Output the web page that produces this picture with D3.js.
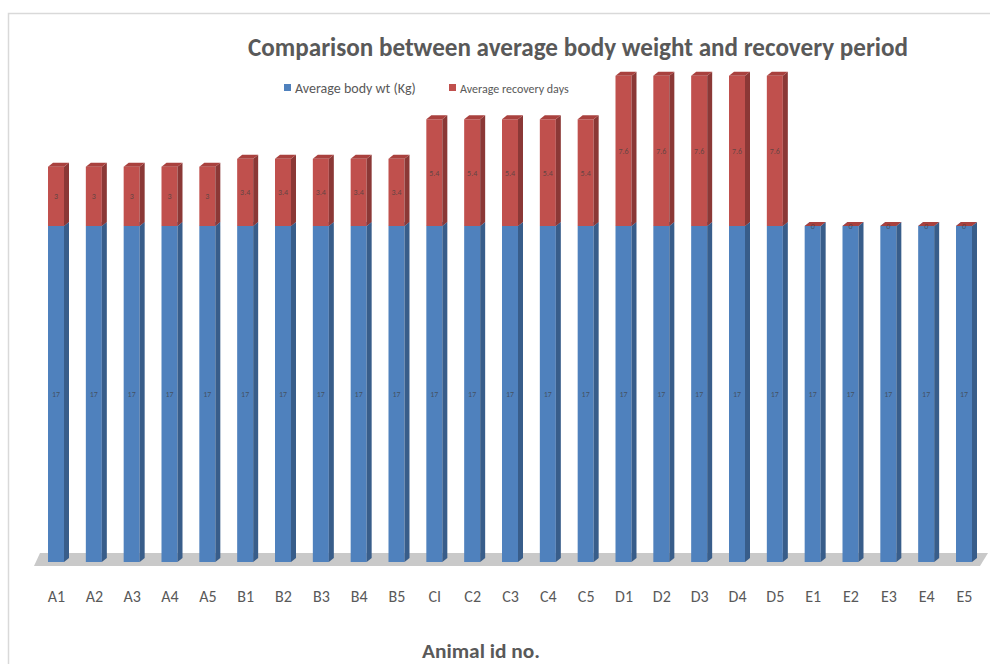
<!DOCTYPE html>
<html>
<head>
<meta charset="utf-8">
<script src="https://cdn.jsdelivr.net/npm/d3@7"></script>
<style>
  html, body { margin: 0; padding: 0; background: #fff; }
  svg { display: block; }
  text { font-family: Carlito, "Liberation Sans Narrow", "Liberation Sans", sans-serif; }
</style>
</head>
<body>
<svg id="chart" width="990" height="664"></svg>
<script>
// Animal ids along the category axis
const animalIds = ["A1","A2","A3","A4","A5","B1","B2","B3","B4","B5",
                   "CI","C2","C3","C4","C5","D1","D2","D3","D4","D5",
                   "E1","E2","E3","E4","E5"];
// Average body weight (Kg) per animal
const bodyWeight = [17,17,17,17,17,17,17,17,17,17,
                    17,17,17,17,17,17,17,17,17,17,
                    17,17,17,17,17];
// Average recovery days per animal
const recoveryDays = [3,3,3,3,3,3.4,3.4,3.4,3.4,3.4,
                      5.4,5.4,5.4,5.4,5.4,7.6,7.6,7.6,7.6,7.6,
                      0,0,0,0,0];
const seriesNames = ["Average body wt (Kg)", "Average recovery days"];
const seriesValues = [bodyWeight, recoveryDays];

const colors = [
  { front: "#4F81BD", side: "#385D8A", top: "#6A93C8" },
  { front: "#C0504D", side: "#8B3836", top: "#A9413E" }
];

const svg = d3.select("#chart");

// Outer chart frame
svg.append("rect")
  .attr("x", 8.5).attr("y", 13.5).attr("width", 1000).attr("height", 700)
  .attr("fill", "none").attr("stroke", "#D9D9D9").attr("stroke-width", 1.5);

const x = d3.scalePoint().domain(animalIds).range([56, 964]);
const y = d3.scaleLinear().domain([0, 17]).range([562, 226]);

const barW = 16, dx = 5, dy = 4;

// Stacked segments
const rows = animalIds.map((id, i) => ({ id, b: bodyWeight[i], r: recoveryDays[i] }));
const stack = d3.stack().keys(["b", "r"])(rows);

// Floor of the 3D plot area
const fx0 = x(animalIds[0]) - 22, fx1 = x(animalIds[animalIds.length - 1]) + 16;
const fyTop = y(0) - 9, fyBot = y(0) + 4;
svg.append("path")
  .attr("d", `M${fx0},${fyBot} L${fx1},${fyBot} L${fx1 + 8},${fyTop} L${fx0 + 6},${fyTop} Z`)
  .attr("fill", "#C9C9C9");

const g = svg.append("g");
rows.forEach((row, i) => {
  stack.forEach((layer, k) => {
    const seg = layer[i];
    const c = colors[k];
    const x0 = x(row.id) - barW / 2;
    const yb = y(seg[0]), yt = y(seg[1]);
    const bar = g.append("g");
    // front face
    bar.append("rect").attr("x", x0).attr("y", yt).attr("width", barW).attr("height", yb - yt)
      .attr("fill", c.front);
    // right side face
    bar.append("path")
      .attr("d", `M${x0 + barW},${yt} L${x0 + barW + dx},${yt - dy} L${x0 + barW + dx},${yb - dy} L${x0 + barW},${yb} Z`)
      .attr("fill", c.side);
    // top face
    bar.append("path")
      .attr("d", `M${x0},${yt} L${x0 + dx},${yt - dy} L${x0 + barW + dx},${yt - dy} L${x0 + barW},${yt} Z`)
      .attr("fill", c.top);
  });
});

// Value labels centred on each segment
stack.forEach((layer, k) => {
  layer.forEach((seg, i) => {
    svg.append("text")
      .attr("x", x(animalIds[i]))
      .attr("y", (y(seg[0]) + y(seg[1])) / 2 + 3)
      .attr("text-anchor", "middle")
      .attr("font-size", 8)
      .attr("fill", "#404040")
      .attr("fill-opacity", 0.75)
      .text(seriesValues[k][i]);
  });
});

// Category axis labels
const xAxis = d3.axisBottom(x).tickSize(0).tickPadding(0);
const axisG = svg.append("g").attr("transform", "translate(0,591)").call(xAxis);
axisG.select(".domain").remove();
axisG.selectAll("text")
  .attr("font-size", 16).attr("fill", "#595959")
  .attr("dy", "0.71em")
  .style("font-family", 'Carlito, "Liberation Sans Narrow", "Liberation Sans", sans-serif');

// Axis title
svg.append("text")
  .attr("x", 481).attr("y", 658)
  .attr("text-anchor", "middle")
  .attr("font-size", 21).attr("font-weight", "bold").attr("fill", "#595959")
  .attr("textLength", 118).attr("lengthAdjust", "spacingAndGlyphs")
  .text("Animal id no.");

// Chart title
svg.append("text")
  .attr("x", 578).attr("y", 56)
  .attr("text-anchor", "middle")
  .attr("font-size", 27).attr("font-weight", "bold").attr("fill", "#595959")
  .attr("textLength", 660).attr("lengthAdjust", "spacingAndGlyphs")
  .text("Comparison  between average  body weight and recovery period");

// Legend
const legendX = [284, 449];
const legendFont = [14, 12];
seriesNames.forEach((name, k) => {
  const lg = svg.append("g").attr("transform", `translate(${legendX[k]},88)`);
  lg.append("rect").attr("x", 0).attr("y", -4).attr("width", 7).attr("height", 7)
    .attr("fill", colors[k].front);
  lg.append("text").attr("x", 11).attr("y", 4.5)
    .attr("font-size", legendFont[k]).attr("fill", "#595959")
    .text(name);
});
</script>
</body>
</html>
